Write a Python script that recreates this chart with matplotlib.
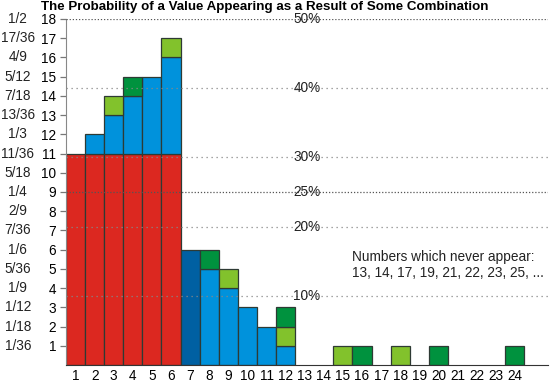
import matplotlib
matplotlib.use("Agg")
import matplotlib.pyplot as plt
import matplotlib.transforms as mtransforms
import numpy as np

plt.rcParams["font.family"] = ["Liberation Sans", "DejaVu Sans"]

# data: count of combinations (out of 36) per value, split by source
values = list(range(1, 25))
red_counts = [11, 11, 11, 11, 11, 11] + [0] * 18
dark_blue_counts = [0] * 6 + [6] + [0] * 17
blue_counts = [0, 1, 2, 3, 4, 5, 0, 5, 4, 3, 2, 1] + [0] * 12
light_green_counts = [0, 0, 1, 0, 0, 1, 0, 0, 1, 0, 0, 1,
                      0, 0, 1, 0, 0, 1, 0, 0, 0, 0, 0, 0]
dark_green_counts = [0, 0, 0, 1, 0, 0, 0, 1, 0, 0, 0, 1,
                     0, 0, 0, 1, 0, 0, 0, 1, 0, 0, 0, 1]

count_ticks = list(range(1, 19))
fraction_labels = ["1/36", "1/18", "1/12", "1/9", "5/36", "1/6", "7/36", "2/9",
                   "1/4", "5/18", "11/36", "1/3", "13/36", "7/18", "5/12", "4/9",
                   "17/36", "1/2"]
percent_lines = [10, 20, 25, 30, 40, 50]
strong_lines = [25, 50]

never_text = "Numbers which never appear:\n13, 14, 17, 19, 21, 22, 23, 25, ..."

colors = {
    "red": "#dc2820",
    "dark_blue": "#0060a2",
    "blue": "#0092dc",
    "light_green": "#82c22c",
    "dark_green": "#00923e",
}

fs = 9.8

fig = plt.figure(figsize=(5.5, 3.82), dpi=100)
ax = fig.add_axes([0.12, 0.0445, 0.8764, 0.9058])

x = np.array(values)
bottom = np.zeros(len(values))
for key, counts in [("red", red_counts), ("dark_blue", dark_blue_counts),
                    ("blue", blue_counts), ("light_green", light_green_counts),
                    ("dark_green", dark_green_counts)]:
    c = np.array(counts, dtype=float)
    m = c > 0
    ax.bar(x[m], c[m], bottom=bottom[m], width=1.0, color=colors[key],
           edgecolor="#2e3a34", linewidth=0.9, zorder=2)
    bottom += c

# percentage reference lines
for p in percent_lines:
    y = p / 100 * 36
    strong = p in strong_lines
    ax.axhline(y, color="#555555" if strong else "#888888",
               linestyle=(0, (1, 1.5)) if strong else (0, (1, 3)),
               linewidth=0.9, zorder=3)
    ax.text(13.12, y, f"{p}%", ha="center", va="center", fontsize=fs,
            color="#222222", zorder=4)

ax.set_xlim(0.5, 25.74)
ax.set_ylim(0, 18)
ax.set_xticks(values)
ax.set_xticklabels([str(v) for v in values], fontsize=fs)
ax.tick_params(axis="x", length=0, pad=3)
ax.set_yticks(count_ticks)
ax.set_yticklabels([str(v) for v in count_ticks], fontsize=fs)
ax.tick_params(axis="y", length=4, width=0.9, color="#777777", pad=3)

trans = mtransforms.blended_transform_factory(ax.transAxes, ax.transData)
for yv, lab in zip(count_ticks, fraction_labels):
    ax.text(-0.1, yv, lab, transform=trans, ha="center", va="center",
            fontsize=fs, color="#222222")

for s in ["top", "right"]:
    ax.spines[s].set_visible(False)
ax.spines["left"].set_color("#888888")
ax.spines["bottom"].set_color("#333333")

ax.text(15.45, 5.2, never_text, ha="left", va="center", fontsize=fs,
        color="#222222", linespacing=1.2)

fig.text(0.482, 0.982, "The Probability of a Value Appearing as a Result of Some Combination",
         ha="center", va="center", fontsize=9.6, fontweight="bold")

fig.savefig("out.png", dpi=100)
